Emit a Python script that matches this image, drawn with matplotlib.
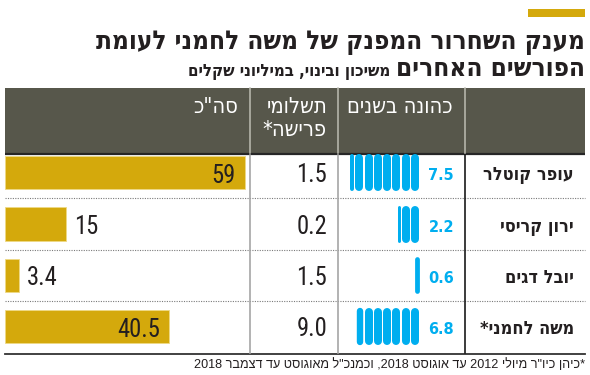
import re
import matplotlib
matplotlib.use("Agg")
import matplotlib.pyplot as plt
from matplotlib import font_manager as fm
from matplotlib.patches import Rectangle
from matplotlib.textpath import TextPath

# ---------------- data ----------------
names = ["עופר קוטלר", "ירון קריסי", "יובל דגים", "משה לחמני*"]
tenure_years = [7.5, 2.2, 0.6, 6.8]
retirement_pay = [1.5, 0.2, 1.5, 9.0]
total_pay = [59, 15, 3.4, 40.5]
headers = ["כהונה בשנים", "תשלומי\nפרישה*", "סה\"כ"]
title_line1 = "מענק השחרור המפנק של משה לחמני לעומת"
title_line2 = "הפורשים האחרים"
subtitle = "משיכון ובינוי, במיליוני שקלים"
footnote = "*כיהן כיו\"ר מיולי 2012 עד אוגוסט 2018, וכמנכ\"ל מאוגוסט עד דצמבר 2018"

# ---------------- style ----------------
GOLD = "#D4A90C"
OLIVE = "#57574B"
BLUE = "#00AEEF"
INK = "#231F20"


def pick(*fams):
    for f in fams:
        try:
            fm.findfont(fm.FontProperties(family=f), fallback_to_default=False)
            return f
        except Exception:
            pass
    return "DejaVu Sans"


HEB = "DejaVu Sans"
NUM = pick("Roboto Condensed", "Open Sans Condensed", "IBM Plex Sans Condensed",
           "Fira Sans Condensed", "Barlow Semi Condensed", "PT Sans Narrow", "DejaVu Sans")
FOOT = pick("Liberation Sans", "DejaVu Sans")


def vis(s):
    """visual (LTR) order for an RTL string; digit runs keep their order"""
    r = s[::-1]
    return re.sub(r"[0-9A-Za-z.]+", lambda m: m.group(0)[::-1], r)


def size_for_height(px, s, **props):
    ext = TextPath((0, 0), s, size=100, prop=fm.FontProperties(**props)).get_extents()
    return px * 0.72 / (ext.height / 100)


W, H = 590, 375
fig = plt.figure(figsize=(W / 100, H / 100), dpi=100)
ax = fig.add_axes([0, 0, 1, 1])
ax.set_xlim(0, W)
ax.set_ylim(H, 0)
ax.axis("off")
renderer = fig.canvas.get_renderer()


def fit(t, width):
    for _ in range(3):
        bb = t.get_window_extent(renderer)
        t.set_fontsize(t.get_fontsize() * width / bb.width)
    return t.get_fontsize()


def fy(y):
    return 1 - y / H


# ---------------- title ----------------
ax.add_patch(Rectangle((528, 9), 57, 8, color=GOLD, lw=0))
t1 = ax.text(585, 49, vis(title_line1), ha="right", va="baseline", color=INK,
             family=HEB, fontstretch="condensed", fontweight="bold", fontsize=20)
fit(t1, 489)
t2 = ax.text(585, 76, vis(title_line2), ha="right", va="baseline", color=INK,
             family=HEB, fontstretch="condensed", fontweight="bold", fontsize=t1.get_fontsize())
x2 = 585 - t2.get_window_extent(renderer).width
t3 = ax.text(x2 - 6, 76, vis(subtitle), ha="right", va="baseline", color=INK,
             family=HEB, fontstretch="condensed", fontweight="bold", fontsize=10)
fit(t3, 202)

# ---------------- header band ----------------
ax.add_patch(Rectangle((5, 88), 580, 65, color=OLIVE, lw=0))
ax.plot([5, 585], [154, 154], color="#262626", lw=1.6, solid_capstyle="butt")
for x in (250, 338, 465):
    ax.plot([x, x], [88, 153], color="#BDBDB3", lw=1.1)

hdr_kw = dict(ha="right", va="baseline", color="white", family=HEB, fontstretch="condensed")
h0 = ax.text(453, 113, vis(headers[0]), **hdr_kw, fontsize=12)
hw = fit(h0, 91)
hh = size_for_height(14.5, "ה", family=HEB, stretch="condensed")
hs = min(hh, 1.16 * hw)
h0.set_fontsize(hs)
l1, l2 = headers[1].split("\n")
ax.text(327, 113, vis(l1), **hdr_kw, fontsize=hs)
ax.text(327, 136, vis(l2), **hdr_kw, fontsize=hs)
ax.text(238, 113, vis(headers[2]), **hdr_kw, fontsize=hs)

# ---------------- rows ----------------
ROW0, PITCH = 172.7, 51.3
row_top = ROW0 - PITCH / 2
row_bot = ROW0 + PITCH * 3.5
rows = range(len(names))

for i in range(1, len(names)):
    y = ROW0 + PITCH * (i - 0.5)
    ax.plot([5, 585], [y, y], color="#7A7A7A", lw=0.8, linestyle=(0, (1, 1.2)))
ax.plot([5, 585], [row_bot + 1.3, row_bot + 1.3], color="#333333", lw=1.3)
for x, c in ((250, "#A6A6A6"), (338, "#A6A6A6"), (465, "#1A1A1A")):
    ax.plot([x, x], [155, row_bot + 1], color=c, lw=1.2)

# names
n0 = ax.text(574, ROW0 + 7.5, vis(names[0]), ha="right", va="baseline", color=INK,
             family=HEB, fontstretch="condensed", fontweight="bold", fontsize=12)
ns = fit(n0, 86) * 1.05
n0.set_fontsize(ns)
for i in rows:
    if i == 0:
        continue
    ax.text(574, ROW0 + PITCH * i + 7.5, vis(names[i]), ha="right", va="baseline",
            color=INK, family=HEB, fontstretch="condensed", fontweight="bold", fontsize=ns)

# tenure pills
PX = 9.3            # px per year
FULL_W = 8.0        # px width of a full-year pill
PILL_H = 37         # px
axt = fig.add_axes([338 / W, fy(row_bot), 127 / W, (row_bot - row_top) / H])
axt.set_xlim((419 - 338) / PX, -(465 - 419) / PX)
axt.set_ylim(len(names) - 0.5, -0.5)
axt.axis("off")
for r, yrs in enumerate(tenure_years):
    n_full = int(yrs)
    frac = round(yrs - n_full, 3)
    pieces = [1.0] * n_full + ([frac] if frac > 0 else [])
    for i, f in enumerate(pieces):
        w_px = max(FULL_W * f, 3.0)
        xc = i + (w_px / 2) / PX
        half = (PILL_H - w_px) / 2 / PITCH
        axt.plot([xc, xc], [r - half, r + half], color=BLUE, lw=w_px * 0.72,
                 solid_capstyle="round", clip_on=False)

bsz = size_for_height(11, "0", family="DejaVu Sans", weight="bold")
for i in rows:
    ax.text(454, ROW0 + PITCH * i + 7.5, f"{tenure_years[i]:.1f}", ha="right",
            va="baseline", color=BLUE, family="DejaVu Sans", fontweight="bold", fontsize=bsz)

# retirement pay numbers
psz = size_for_height(18, "0", family=NUM)
for i in rows:
    ax.text(327, ROW0 + PITCH * i + 9.5, f"{retirement_pay[i]:.1f}", ha="right",
            va="baseline", color=INK, family=NUM, fontsize=psz)

# total bars
K = 4.06  # px per million
axb = fig.add_axes([5 / W, fy(row_bot), 245 / W, (row_bot - row_top) / H])
axb.set_xlim(0, 245 / K)
axb.set_ylim(len(names) - 0.5, -0.5)
axb.axis("off")
axb.barh(list(rows), total_pay, height=0.645, color=GOLD, edgecolor="#EED985", linewidth=0.6)
for i, v in enumerate(total_pay):
    inside = v > 30
    axb.annotate(f"{v:g}", (v, i), xytext=((-9 if inside else 8) * 0.72, -10 * 0.72),
                 textcoords="offset points", ha="right" if inside else "left",
                 va="baseline", color=INK, family=NUM, fontsize=psz, annotation_clip=False)

# footnote
fn = ax.text(585, 368, vis(footnote), ha="right", va="baseline", color=INK,
             family=FOOT, fontsize=9)
fit(fn, 388)

fig.savefig("out.png", dpi=100)
